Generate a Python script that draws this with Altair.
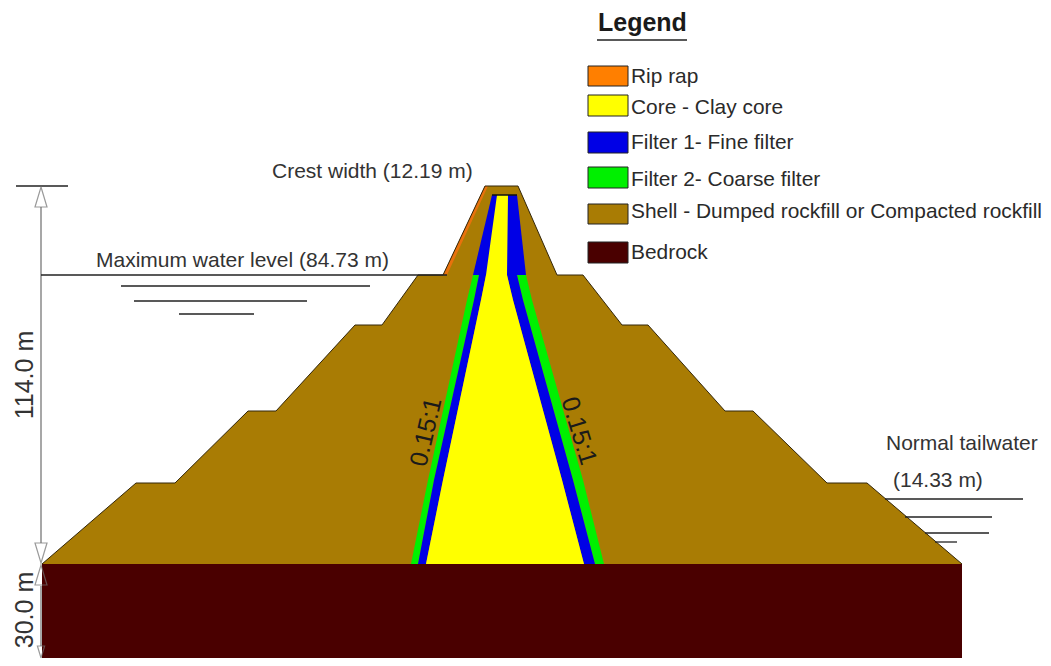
import altair as alt
import pandas as pd

# All geometry is in section coordinates (y grows downward).
FOUNDATION = 564
BASE = 666

shell_x = [42, 136, 175, 248, 276, 355, 382, 418, 443, 485, 518, 557, 583, 622, 648, 725, 753, 827, 867, 962]
shell_y = [564, 483, 483, 411, 411, 325, 325, 275, 275, 186, 186, 275, 275, 325, 325, 411, 411, 483, 483, 564]

riprap_y = [186, 275]
riprap_x1 = [485, 443]
riprap_x2 = [488, 447]

upper_filter_y = [195, 275]
upper_filter_x1 = [492, 473]
upper_filter_x2 = [517, 526]

green_l_y = [275, 300, 480, 564]
green_l_x1 = [473, 467, 428, 411]
green_l_x2 = [479, 474, 434, 418]
blue_l_y = [275, 300, 480, 564]
blue_l_x1 = [479, 474, 434, 418]
blue_l_x2 = [486, 481, 443, 426]
green_r_y = [275, 300, 480, 564]
green_r_x1 = [517, 523, 573, 595]
green_r_x2 = [526, 532, 583, 604]
blue_r_y = [275, 300, 480, 564]
blue_r_x1 = [507, 513, 562, 584]
blue_r_x2 = [517, 523, 573, 595]

core_y = [195, 275, 300, 480, 564]
core_x1 = [497, 486, 481, 443, 426]
core_x2 = [508, 507, 513, 562, 584]

legend_names = ["Rip rap", "Core - Clay core", "Filter 1- Fine filter", "Filter 2- Coarse filter",
                "Shell - Dumped rockfill or Compacted rockfill", "Bedrock"]
legend_colors = ["#ff7f00", "#ffff00", "#0000e6", "#00f000", "#a97c04", "#4a0000"]
legend_y1 = [66, 95, 132, 167, 204, 242]
legend_y2 = [86, 116, 153, 188, 224, 263]
legend_text_y = [77, 108, 143, 180, 212, 253]

# dark water-level and crest lines
line_x1 = [41, 121, 134, 179, 885, 905, 925, 935, 597, 16]
line_x2 = [447, 370, 307, 254, 1023, 992, 989, 957, 687, 68]
line_y = [275, 286, 301, 314, 499, 517, 533, 542, 40, 186]

# grey dimension lines
dim_x = [41, 41]
dim_y1 = [207, 586]
dim_y2 = [543, 646]

arrow_x = [41, 41, 41]
arrow_y = [197, 553, 575]
arrow_kind = ["up", "down", "up"]
tail_arrow_x = [41]
tail_arrow_y = [652]

labels = ["Crest width (12.19 m)", "Maximum water level (84.73 m)", "Normal tailwater", "(14.33 m)"]
labels_x = [272, 96, 886, 893]
labels_y = [172, 261, 444, 481]

rot_text = ["114.0 m", "30.0 m"]
rot_x = [25, 25]
rot_y = [375, 610]

slope_text = ["0.15:1", "0.15:1"]
slope_x = [426, 579]
slope_y = [432, 431]
slope_angle = [283, 73]

FONT = "Liberation Sans"

sx = alt.Scale(domain=[8, 1043], nice=False, zero=False)
sy = alt.Scale(domain=[658, 8], nice=False, zero=False)
X = lambda f="x": alt.X(f"{f}:Q", scale=sx, axis=None)
Y = lambda f="y": alt.Y(f"{f}:Q", scale=sy, axis=None)
X2 = lambda f="x2": alt.X2(f"{f}:Q")
Y2 = lambda f="y2": alt.Y2(f"{f}:Q")

layers = []

bed = pd.DataFrame({"x": [42], "x2": [962], "y": [FOUNDATION], "y2": [BASE]})
layers.append(alt.Chart(bed).mark_rect(color="#4a0000").encode(x=X(), x2=X2(), y=Y(), y2=Y2()))

shell = pd.DataFrame({"x": shell_x, "y": shell_y, "y2": [FOUNDATION] * len(shell_x)})
layers.append(alt.Chart(shell).mark_area(color="#a97c04", interpolate="linear").encode(x=X(), y=Y(), y2=Y2()))


def band(ys, x1, x2, color):
    df = pd.DataFrame({"y": ys, "x": x1, "x2": x2})
    return alt.Chart(df).mark_area(color=color, orient="horizontal").encode(y=Y(), x=X(), x2=X2())


layers.append(band(riprap_y, riprap_x1, riprap_x2, "#e8720c"))
layers.append(band(upper_filter_y, upper_filter_x1, upper_filter_x2, "#0000e6"))
layers.append(band(green_l_y, green_l_x1, green_l_x2, "#00f000"))
layers.append(band(blue_l_y, blue_l_x1, blue_l_x2, "#0000e6"))
layers.append(band(green_r_y, green_r_x1, green_r_x2, "#00f000"))
layers.append(band(blue_r_y, blue_r_x1, blue_r_x2, "#0000e6"))
layers.append(band(core_y, core_x1, core_x2, "#ffff00"))

layers.append(alt.Chart(shell).mark_line(color="#33260a", strokeWidth=1).encode(x=X(), y=Y()))

# top edge of the filter box
layers.append(alt.Chart(pd.DataFrame({"x": [upper_filter_x1[0]], "x2": [upper_filter_x2[0]], "y": [upper_filter_y[0]]}))
              .mark_rule(color="#111111", strokeWidth=1.5).encode(x=X(), x2=X2(), y=Y()))

dims = pd.DataFrame({"x": dim_x, "y": dim_y1, "y2": dim_y2})
layers.append(alt.Chart(dims).mark_rule(color="#8a8a8a", strokeWidth=1.5).encode(x=X(), y=Y(), y2=Y2()))

lines = pd.DataFrame({"x": line_x1, "x2": line_x2, "y": line_y})
layers.append(alt.Chart(lines).mark_rule(color="#222222", strokeWidth=1.3).encode(x=X(), x2=X2(), y=Y()))

# arrowheads
arrows = pd.DataFrame({"x": arrow_x, "y": arrow_y, "kind": arrow_kind})
UP = "M0,-1L0.6,1L-0.6,1Z"
DOWN = "M0,1L0.6,-1L-0.6,-1Z"
for kind, path in (("up", UP), ("down", DOWN)):
    layers.append(alt.Chart(arrows[arrows.kind == kind]).mark_point(
        shape=path, size=400, filled=False, stroke="#707070", strokeWidth=1.2).encode(x=X(), y=Y()))
layers.append(alt.Chart(pd.DataFrame({"x": tail_arrow_x, "y": tail_arrow_y})).mark_point(
    shape=DOWN, size=144, filled=False, stroke="#707070", strokeWidth=1.2).encode(x=X(), y=Y()))

# legend
leg = pd.DataFrame({"name": legend_names, "x": [588] * 6, "x2": [628] * 6, "y": legend_y1, "y2": legend_y2,
                    "tx": [631] * 6, "ty": legend_text_y})
layers.append(alt.Chart(leg).mark_rect(stroke="#222222", strokeWidth=1).encode(
    x=X(), x2=X2(), y=Y(), y2=Y2(),
    fill=alt.Color("name:N", scale=alt.Scale(domain=legend_names, range=legend_colors), legend=None)))
layers.append(alt.Chart(leg).mark_text(align="left", baseline="middle", font=FONT, fontSize=20.9,
                                       color="#2a2a2a").encode(x=X("tx"), y=Y("ty"), text="name:N"))

title = pd.DataFrame({"t": ["Legend"], "x": [598], "y": [23]})
layers.append(alt.Chart(title).mark_text(align="left", baseline="middle", font=FONT, fontSize=25,
                                         fontWeight="bold", color="#1a1a1a").encode(x=X(), y=Y(), text="t:N"))

ann = pd.DataFrame({"t": labels, "x": labels_x, "y": labels_y})
layers.append(alt.Chart(ann).mark_text(align="left", baseline="middle", font=FONT, fontSize=21,
                                       color="#333333").encode(x=X(), y=Y(), text="t:N"))

rot = pd.DataFrame({"t": rot_text, "x": rot_x, "y": rot_y})
layers.append(alt.Chart(rot).mark_text(align="center", baseline="middle", font=FONT, fontSize=25, angle=270,
                                       color="#333333").encode(x=X(), y=Y(), text="t:N"))

for t, x, y, a in zip(slope_text, slope_x, slope_y, slope_angle):
    df = pd.DataFrame({"t": [t], "x": [x], "y": [y]})
    layers.append(alt.Chart(df).mark_text(align="center", baseline="middle", font=FONT, fontSize=25,
                                          angle=a, color="#1a1a1a").encode(x=X(), y=Y(), text="t:N"))

chart = alt.layer(*layers).properties(
    width=1035, height=650, padding=0, autosize=alt.AutoSizeParams(type="none"), background="white"
).configure_view(stroke=None)

chart.save("out.html", embed_options={"renderer": "svg", "actions": False})
